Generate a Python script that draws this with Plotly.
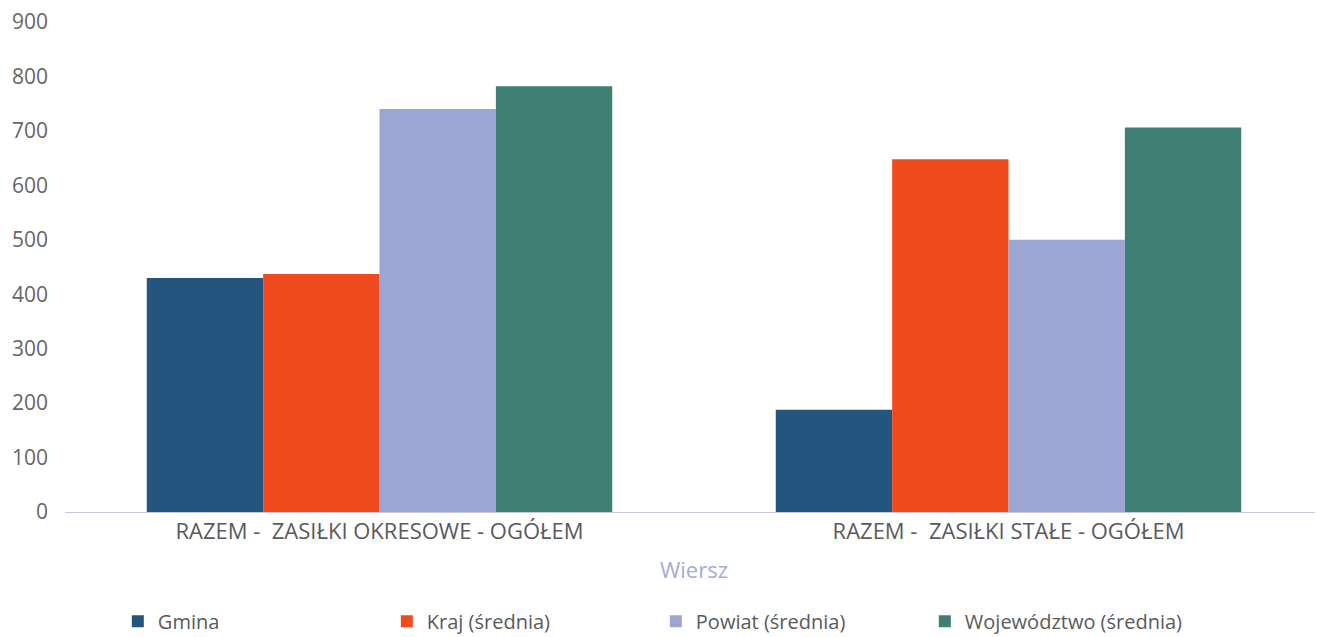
import plotly.graph_objects as go

categories = ["RAZEM -  ZASIŁKI OKRESOWE - OGÓŁEM", "RAZEM -  ZASIŁKI STAŁE - OGÓŁEM"]
series_names = ["Gmina", "Kraj (średnia)", "Powiat (średnia)", "Województwo (średnia)"]
gmina = [430, 188]
kraj = [437, 648]
powiat = [740, 500]
wojewodztwo = [782, 706]
y_ticks = [0, 100, 200, 300, 400, 500, 600, 700, 800, 900]

colors = ["#24557f", "#f04b1f", "#9da5d2", "#3f7f74"]
values = [gmina, kraj, powiat, wojewodztwo]

fig = go.Figure()
for name, vals, col in zip(series_names, values, colors):
    fig.add_trace(go.Bar(
        x=categories, y=vals, name=name,
        marker=dict(color=col, line=dict(width=0)),
    ))

fig.update_layout(
    width=1315, height=629,
    margin=dict(l=57, r=0, t=14, b=125, autoexpand=False),
    paper_bgcolor="white", plot_bgcolor="white",
    font=dict(family="Open Sans", size=20, color="#5a5a5a"),
    barmode="group", bargap=0.26, bargroupgap=0,
    showlegend=True,
    legend=dict(orientation="h", x=0.042, xanchor="left", y=-0.263, yanchor="bottom",
                entrywidth=224, entrywidthmode="pixels",
                font=dict(size=20, color="#5a5a5a")),
    xaxis=dict(
        showline=True, linecolor="#c4c8e0", linewidth=1,
        ticks="", showgrid=False,
        tickfont=dict(size=22, color="#5a5a5a"),
        title=dict(text="Wiersz", font=dict(size=22, color="#a3abd9"), standoff=18),
    ),
    yaxis=dict(
        range=[0, 900], tickvals=y_ticks, showgrid=False, zeroline=False,
        showline=False, ticks="",
        tickfont=dict(size=21, color="#666666"),
        ticklabelstandoff=16, ticklabeloverflow="allow",
    ),
)

fig.write_html("out.html")
